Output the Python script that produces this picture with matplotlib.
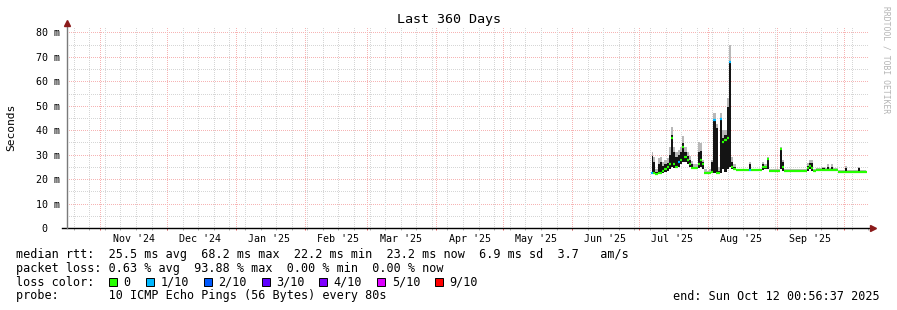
import pandas as pd
import matplotlib
matplotlib.use('Agg')
import matplotlib.pyplot as plt
import matplotlib.dates as mdates

MONO = 'DejaVu Sans Mono'

# --- ventana de tiempo ---
inicio = pd.Timestamp('2024-10-17 00:56:37')
fin = pd.Timestamp('2025-10-12 00:56:37')

# --- datos diarios (ms), del 7 jul al 11 oct 2025 ---
dias = pd.date_range('2025-07-07', '2025-10-11', freq='D')

mediana = [22.4, 22.4, 22.2, 22.3, 22.5, 23.5, 24.0, 25.0, 26.0, 37.0,
           26.0, 25.0, 27.0, 28.0, 33.0, 29.0, 28.0, 26.0, 24.5, 24.5,
           24.5, 26.0, 28.0, 26.0, 22.5, 22.5, 22.5, 23.0, 44.0, 22.5,
           22.5, 44.5, 35.0, 36.0, 37.0, 68.0, 25.0, 24.0, 23.7, 23.7,
           23.7, 23.7, 23.7, 23.7, 23.7, 23.7, 23.7, 23.7, 23.7, 23.7,
           25.0, 25.0, 28.2, 23.3, 23.5, 23.5, 23.5, 23.5, 32.2, 25.0,
           23.5, 23.5, 23.5, 23.5, 23.5, 23.5, 23.5, 23.5, 23.5, 23.5,
           24.5, 25.5, 24.5, 23.5, 23.7, 23.7, 23.7, 23.7, 23.7, 23.7,
           23.7, 23.7, 23.7, 23.7, 23.1, 23.1, 23.1, 23.1, 23.1, 23.1,
           23.1, 23.1, 23.1, 23.1, 23.1, 23.1, 23.1]

humo_bajo = [22.0, 22.0, 22.0, 22.0, 22.2, 22.5, 23.0, 23.5, 24.0, 25.0,
             24.5, 24.5, 25.0, 26.0, 27.0, 27.0, 26.0, 25.0, 24.0, 24.0,
             24.0, 24.5, 25.0, 24.0, 22.3, 22.3, 22.3, 22.5, 22.5, 22.5,
             22.3, 22.5, 24.0, 23.0, 24.0, 25.0, 24.0, 23.7, 23.7, 23.7,
             23.7, 23.7, 23.7, 23.7, 23.7, 23.7, 23.7, 23.7, 23.7, 23.7,
             23.7, 24.0, 24.0, 23.3, 23.5, 23.5, 23.5, 23.5, 24.0, 23.5,
             23.5, 23.5, 23.5, 23.5, 23.5, 23.5, 23.5, 23.5, 23.5, 23.5,
             23.5, 24.0, 23.5, 23.5, 23.7, 23.7, 23.7, 23.7, 23.7, 23.7,
             23.7, 23.7, 23.7, 23.7, 23.1, 23.1, 23.1, 23.1, 23.1, 23.1,
             23.1, 23.1, 23.1, 23.1, 23.1, 23.1, 23.1]

humo_oscuro = [29.5, 27.0, 23.0, 26.0, 27.0, 25.5, 26.0, 26.5, 30.0, 38.0,
               31.0, 29.0, 30.0, 31.0, 34.7, 31.0, 29.5, 28.0, 26.0, 25.0,
               25.0, 31.0, 31.5, 27.0, 23.0, 23.0, 23.0, 27.0, 44.5, 41.0,
               23.5, 45.0, 37.0, 38.0, 49.6, 68.5, 27.0, 25.0, 24.0, 24.0,
               24.0, 24.0, 24.0, 24.0, 26.2, 24.0, 24.0, 24.0, 24.0, 24.0,
               26.2, 25.5, 28.2, 23.6, 23.8, 23.8, 23.8, 23.8, 32.2, 27.0,
               23.8, 23.8, 23.8, 23.8, 23.8, 23.8, 23.8, 23.8, 23.8, 23.8,
               25.5, 26.5, 26.5, 23.8, 24.0, 24.0, 24.0, 24.5, 24.0, 25.0,
               24.0, 25.0, 24.0, 24.0, 23.4, 23.4, 23.4, 24.5, 23.4, 23.4,
               23.4, 23.4, 23.4, 24.5, 23.4, 23.4, 23.4]

humo_claro = [31.0, 29.0, 24.0, 28.5, 29.0, 27.0, 28.0, 28.5, 33.0, 41.4,
              33.0, 31.0, 32.0, 33.0, 37.7, 33.0, 31.0, 29.5, 27.5, 26.0,
              26.0, 35.0, 34.7, 28.0, 24.0, 23.5, 24.0, 28.0, 47.0, 42.5,
              25.0, 47.0, 40.0, 40.0, 53.0, 75.0, 29.0, 26.0, 24.3, 24.3,
              24.3, 24.3, 24.3, 24.3, 27.0, 24.3, 24.3, 24.3, 24.3, 24.3,
              27.0, 26.0, 29.0, 24.0, 24.2, 24.2, 24.2, 24.2, 33.0, 28.0,
              24.2, 24.2, 24.2, 24.2, 24.2, 24.2, 24.2, 24.2, 24.2, 24.2,
              26.5, 28.0, 28.0, 24.2, 24.4, 24.4, 24.4, 25.0, 24.4, 26.0,
              24.4, 26.0, 24.4, 24.4, 23.8, 23.8, 23.8, 25.5, 23.8, 23.8,
              23.8, 23.8, 23.8, 25.0, 23.8, 23.8, 23.8]

# paquetes perdidos de 10
perdida = [1, 0, 0, 0, 0, 0, 0, 0, 0, 0,
           0, 0, 1, 0, 0, 0, 0, 0, 0, 0,
           0, 0, 0, 0, 0, 0, 0, 0, 1, 0,
           0, 1, 0, 0, 0, 1, 0, 0, 0, 0,
           0, 0, 0, 0, 1, 0, 0, 0, 0, 0,
           0, 0, 0, 0, 0, 0, 0, 0, 0, 0,
           0, 0, 0, 0, 0, 0, 0, 0, 0, 0,
           0, 0, 0, 0, 0, 0, 0, 0, 0, 0,
           0, 0, 0, 0, 0, 0, 0, 0, 0, 0,
           0, 0, 0, 0, 0, 0, 0]

colores_perdida = {0: '#26ff00', 1: '#00b8ff', 2: '#0059ff', 3: '#5e00ff',
                   4: '#7e00ff', 5: '#dd00ff', 9: '#ff0000'}
etiquetas_perdida = ['0', '1/10', '2/10', '3/10', '4/10', '5/10', '9/10']

y_ticks = [0, 10, 20, 30, 40, 50, 60, 70, 80]
y_labels = ['0  ', '10 m', '20 m', '30 m', '40 m', '50 m', '60 m', '70 m', '80 m']

fig = plt.figure(figsize=(8.97, 3.10), dpi=100)
W, H = 897, 310
ax = fig.add_axes([67 / W, 82 / H, 801 / W, 201 / H])
ax.set_xlim(inicio, fin)
ax.set_ylim(0, 82.2)
for s in ax.spines.values():
    s.set_visible(False)

# grilla punteada (sin antialias para que se vean los puntos)
punteado = (0, (1, 1.5))
rojo_grid = '#f6b4b4'
gris_grid = '#d6d6d6'
for v in range(5, 81, 5):
    c = rojo_grid if v % 10 == 0 else gris_grid
    ax.axhline(v, color=c, lw=0.72, ls=punteado, antialiased=False, zorder=0)
semanas = pd.date_range(inicio, fin, freq='W-SUN')
meses = pd.date_range(inicio, fin, freq='MS')
for s in semanas:
    ax.axvline(s, color=gris_grid, lw=0.72, ls=punteado, antialiased=False, zorder=0)
for m in meses:
    ax.axvline(m, color=rojo_grid, lw=0.72, ls=punteado, antialiased=False, zorder=1)

# humo y mediana
ax.fill_between(dias, humo_oscuro, humo_claro, step='mid', color='#b8b8b8', lw=0, zorder=2)
ax.fill_between(dias, humo_bajo, humo_oscuro, step='mid', color='#141414', lw=0, zorder=3)
medio_dia = pd.Timedelta(hours=12)
for d, m, p in zip(dias, mediana, perdida):
    ax.hlines(m, d - medio_dia, d + medio_dia, color=colores_perdida[p], lw=1.6, zorder=4)

# ejes con flechas
ax.plot([-5 / 801, 1.004], [0, 0], color='black', lw=1, transform=ax.transAxes, clip_on=False, zorder=6)
ax.plot([0, 0], [0, 1.015], color='#7a7a7a', lw=1, transform=ax.transAxes, clip_on=False, zorder=6)
ax.plot([1.006], [0], marker='>', ms=4, color='#8b1a1a', transform=ax.transAxes, clip_on=False, zorder=7)
ax.plot([0], [1.02], marker='^', ms=4, color='#8b1a1a', transform=ax.transAxes, clip_on=False, zorder=7)

xt = ax.get_xaxis_transform()
ax.vlines(semanas, -0.012, 0, color='#b0b0b0', lw=0.72, transform=xt, clip_on=False)
ax.vlines(meses, -0.012, 0, color='#e06060', lw=0.72, transform=xt, clip_on=False)

ax.set_yticks(y_ticks)
ax.set_yticklabels(y_labels, family=MONO, fontsize=7.2)
ax.tick_params(axis='y', length=0, pad=5)
ax.xaxis.set_major_locator(mdates.MonthLocator(bymonthday=16))
ax.xaxis.set_major_formatter(mdates.DateFormatter("%b '%y"))
ax.tick_params(axis='x', length=0, pad=4)
for t in ax.get_xticklabels():
    t.set_family(MONO)
    t.set_fontsize(7.2)


def fy(ypx):
    return 1 - ypx / H


fig.text(0.5, fy(19), 'Last 360 Days', ha='center', va='center', family=MONO, fontsize=9.6)
fig.text(11 / W, fy(127), 'Seconds', rotation=90, ha='center', va='center', family=MONO, fontsize=8.1)
fig.text(886 / W, fy(60), 'RRDTOOL / TOBI OETIKER', rotation=270, ha='center', va='center',
         family=MONO, fontsize=5.8, color='#b4b4b4')

# leyenda: filas de texto monoespaciado
fs = 8.5
fila1 = 'median rtt:  25.5 ms avg  68.2 ms max  22.2 ms min  23.2 ms now  6.9 ms sd  3.7   am/s'
fila2 = 'packet loss: 0.63 % avg  93.88 % max  0.00 % min  0.00 % now'
fila4 = 'probe:       10 ICMP Echo Pings (56 Bytes) every 80s'
fig.text(16 / W, fy(254.3), fila1, va='center', family=MONO, fontsize=fs)
fig.text(16 / W, fy(268.3), fila2, va='center', family=MONO, fontsize=fs)

fig.text(16 / W, fy(282.3), 'loss color:', va='center', family=MONO, fontsize=fs)
cajas_x = [109, 146, 204, 261.7, 319.3, 377.3, 435]
for cx, clave, lab in zip(cajas_x, colores_perdida, etiquetas_perdida):
    fig.patches.append(plt.Rectangle((cx / W, fy(286.3)), 8 / W, 8 / H, transform=fig.transFigure,
                                     facecolor=colores_perdida[clave], edgecolor='black', lw=0.7))
    fig.text((cx + 14.5) / W, fy(282.3), lab, va='center', family=MONO, fontsize=fs)

fig.text(16 / W, fy(296), fila4, va='center', family=MONO, fontsize=fs)
fig.text(880 / W, fy(296), 'end: Sun Oct 12 00:56:37 2025', ha='right', va='center', family=MONO, fontsize=fs)

fig.savefig('out.png', dpi=100)
